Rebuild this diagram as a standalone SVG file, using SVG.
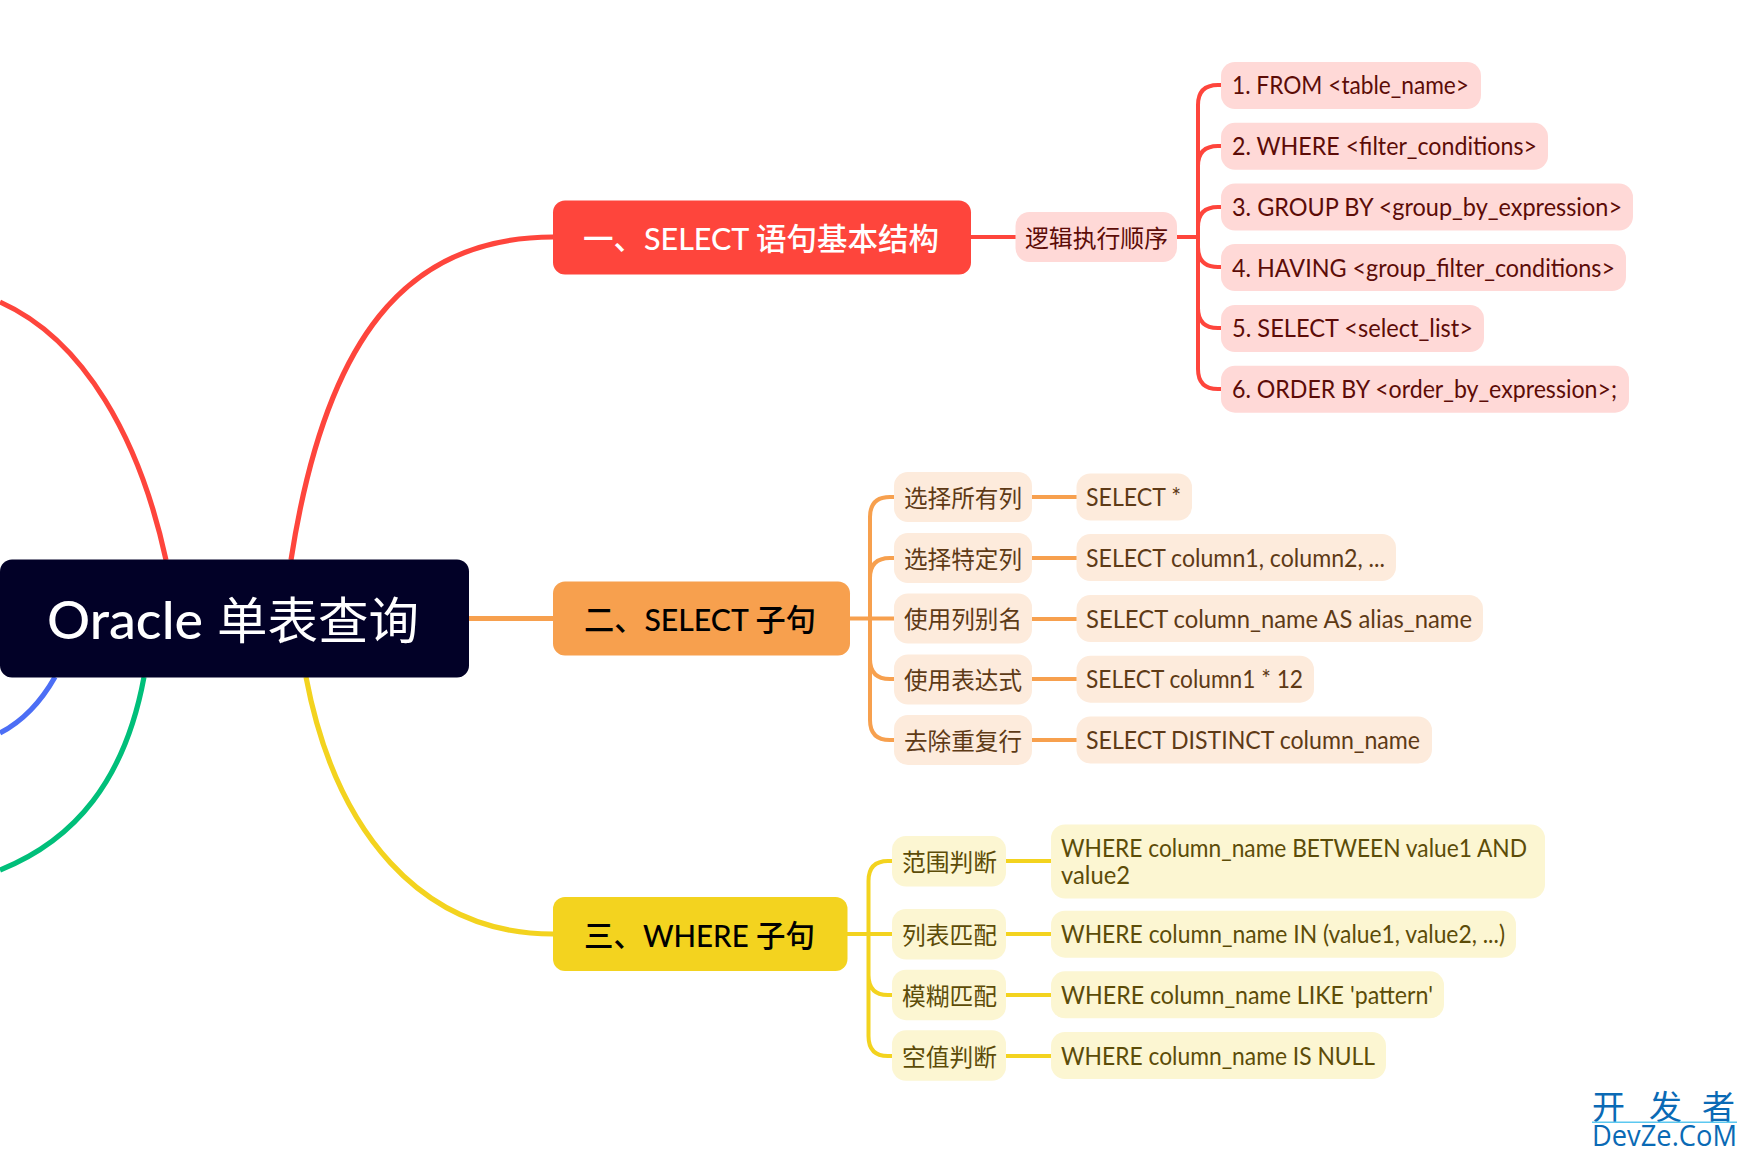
<svg xmlns="http://www.w3.org/2000/svg" width="1748" height="1157" viewBox="0 0 1748 1157">
<style>
text{font-family:"Lato","Noto Sans CJK SC",sans-serif;font-size:24px}
.c{fill:none;stroke-width:4;stroke-linecap:butt}
.t{stroke-width:5.200}
.m{font-size:31px;font-weight:500}
.l{font-size:25.500px}
.r{stroke:#fe453c}.o{stroke:#f7a04e}.y{stroke:#f3d31f}
.rb{fill:#ffd9d7}.ob{fill:#fdebdc}.yb{fill:#fcf6d2}
.rt{fill:#5c0c07}.ot{fill:#5e3a16}.yt{fill:#5c4c08}
</style>
<rect width="1748" height="1157" fill="#fff"/>
<g id="connectors">
<path class="c t r" d="M291 560C325 340 405 237 553 237"/>
<path class="c t r" d="M166 560C140 440 85 340 0 302"/>
<path class="c t" style="stroke:#4c6ef5" d="M55 677C42 700 25 720 0 733"/>
<path class="c t" style="stroke:#00bf7a" d="M144 677C125 780 75 840 0 870"/>
<path class="c t y" d="M306 677C335 830 420 934 553 934"/>
<path class="c t o" d="M469 618.500H553"/>
<path class="c r" d="M971 237H1016M1177 237H1198M1198 237V105Q1198 85 1218 85H1221M1198 237V166Q1198 146 1218 146H1221M1198 237V227Q1198 207 1218 207H1221M1198 237V247Q1198 267 1218 267H1221M1198 237V308Q1198 328 1218 328H1221M1198 237V369Q1198 389 1218 389H1221"/>
<path class="c o" d="M850 618.500H894M870 618V517Q870 497 890 497H894M870 618V578Q870 558 890 558H894M870 618V659Q870 679 890 679H894M870 618V720Q870 740 890 740H894M1032 497H1077M1032 558H1077M1032 619H1077M1032 679H1077M1032 740H1077"/>
<path class="c y" d="M847 934H892M868.500 934V881Q868.500 861 888 861H892M868.500 934V975Q868.500 995 888 995H892M868.500 934V1036Q868.500 1056 888 1056H892M1006 861H1051M1006 934H1051M1006 995H1051M1006 1056H1051"/>
</g>
<g id="root"><rect x="0" y="559.500" width="469" height="118" rx="12" fill="#020127"/><text x="47" y="639" textLength="156" lengthAdjust="spacingAndGlyphs" style="font-size:52px;font-weight:500" fill="#fff">Oracle</text><text x="217" y="639" textLength="202" lengthAdjust="spacingAndGlyphs" style="font-size:50px;font-weight:400" fill="#fff">单表查询</text></g>
<g id="n1"><rect x="553" y="200.500" width="418" height="74" rx="12" fill="#fe453c"/><text class="m" x="583" y="250" textLength="356" lengthAdjust="spacingAndGlyphs" fill="#fff">一、SELECT 语句基本结构</text></g>
<g id="n2"><rect x="553" y="581.500" width="297" height="74" rx="12" fill="#f7a04e"/><text class="m" x="584" y="631" textLength="232" lengthAdjust="spacingAndGlyphs" fill="#000">二、SELECT 子句</text></g>
<g id="n3"><rect x="553" y="897" width="294.500" height="74" rx="12" fill="#f3d31f"/><text class="m" x="584" y="947" textLength="231" lengthAdjust="spacingAndGlyphs" fill="#000">三、WHERE 子句</text></g>

<g id="n1-0"><rect class="rb" x="1015.500" y="212" width="161.500" height="50" rx="14"/><text class="rt" x="1025" y="247" textLength="143" lengthAdjust="spacingAndGlyphs">逻辑执行顺序</text></g>
<g id="n1-1"><rect class="rb" x="1221" y="62" width="260" height="47" rx="14"/><text class="rt l" x="1232" y="93.500" textLength="237" lengthAdjust="spacingAndGlyphs">1. FROM &lt;table_name&gt;</text></g>
<g id="n1-2"><rect class="rb" x="1221" y="122.800" width="327" height="47" rx="14"/><text class="rt l" x="1232" y="154.500" textLength="305" lengthAdjust="spacingAndGlyphs">2. WHERE &lt;filter_conditions&gt;</text></g>
<g id="n1-3"><rect class="rb" x="1221" y="183.500" width="412" height="47" rx="14"/><text class="rt l" x="1232" y="215.500" textLength="390" lengthAdjust="spacingAndGlyphs">3. GROUP BY &lt;group_by_expression&gt;</text></g>
<g id="n1-4"><rect class="rb" x="1221" y="244" width="405" height="47" rx="14"/><text class="rt l" x="1232" y="276.500" textLength="383" lengthAdjust="spacingAndGlyphs">4. HAVING &lt;group_filter_conditions&gt;</text></g>
<g id="n1-5"><rect class="rb" x="1221" y="305" width="263" height="47" rx="14"/><text class="rt l" x="1232" y="336.500" textLength="241" lengthAdjust="spacingAndGlyphs">5. SELECT &lt;select_list&gt;</text></g>
<g id="n1-6"><rect class="rb" x="1221" y="365.700" width="408" height="47" rx="14"/><text class="rt l" x="1232" y="397.500" textLength="385" lengthAdjust="spacingAndGlyphs">6. ORDER BY &lt;order_by_expression&gt;;</text></g>

<g id="n2-1"><rect class="ob" x="894" y="472" width="138" height="50" rx="14"/><text class="ot" x="904" y="506.500" textLength="118" lengthAdjust="spacingAndGlyphs">选择所有列</text></g>
<g id="n2-1-1"><rect class="ob" x="1076.500" y="473.500" width="115.500" height="47" rx="14"/><text class="ot l" x="1086" y="505.500" textLength="95" lengthAdjust="spacingAndGlyphs">SELECT *</text></g>
<g id="n2-2"><rect class="ob" x="894" y="533" width="138" height="50" rx="14"/><text class="ot" x="904" y="567.500" textLength="118" lengthAdjust="spacingAndGlyphs">选择特定列</text></g>
<g id="n2-2-1"><rect class="ob" x="1076.500" y="534" width="319.500" height="47" rx="14"/><text class="ot l" x="1086" y="566.500" textLength="299" lengthAdjust="spacingAndGlyphs">SELECT column1, column2, ...</text></g>
<g id="n2-3"><rect class="ob" x="894" y="593.500" width="138" height="50" rx="14"/><text class="ot" x="904" y="628" textLength="118" lengthAdjust="spacingAndGlyphs">使用列别名</text></g>
<g id="n2-3-1"><rect class="ob" x="1076.500" y="595" width="406.500" height="47" rx="14"/><text class="ot l" x="1086" y="627.500" textLength="386" lengthAdjust="spacingAndGlyphs">SELECT column_name AS alias_name</text></g>
<g id="n2-4"><rect class="ob" x="894" y="654.500" width="138" height="50" rx="14"/><text class="ot" x="904" y="689" textLength="118" lengthAdjust="spacingAndGlyphs">使用表达式</text></g>
<g id="n2-4-1"><rect class="ob" x="1076.500" y="655.700" width="237.500" height="47" rx="14"/><text class="ot l" x="1086" y="687.500" textLength="217" lengthAdjust="spacingAndGlyphs">SELECT column1 * 12</text></g>
<g id="n2-5"><rect class="ob" x="894" y="715" width="138" height="50" rx="14"/><text class="ot" x="904" y="750" textLength="118" lengthAdjust="spacingAndGlyphs">去除重复行</text></g>
<g id="n2-5-1"><rect class="ob" x="1076.500" y="716.500" width="355.500" height="47" rx="14"/><text class="ot l" x="1086" y="748.500" textLength="334" lengthAdjust="spacingAndGlyphs">SELECT DISTINCT column_name</text></g>

<g id="n3-1"><rect class="yb" x="892" y="836" width="114" height="50.500" rx="14"/><text class="yt" x="902" y="871" textLength="95" lengthAdjust="spacingAndGlyphs">范围判断</text></g>
<g id="n3-1-1"><rect class="yb" x="1051" y="824.500" width="494" height="74" rx="14"/><text class="yt l" x="1061" y="856.500" textLength="466" lengthAdjust="spacingAndGlyphs">WHERE column_name BETWEEN value1 AND</text><text class="yt l" x="1061" y="883.500" textLength="69" lengthAdjust="spacingAndGlyphs">value2</text></g>
<g id="n3-2"><rect class="yb" x="892" y="909" width="114" height="50.500" rx="14"/><text class="yt" x="902" y="944" textLength="95" lengthAdjust="spacingAndGlyphs">列表匹配</text></g>
<g id="n3-2-1"><rect class="yb" x="1051" y="910.700" width="465" height="47" rx="14"/><text class="yt l" x="1061" y="942.500" textLength="444" lengthAdjust="spacingAndGlyphs">WHERE column_name IN (value1, value2, ...)</text></g>
<g id="n3-3"><rect class="yb" x="892" y="969.700" width="114" height="50.500" rx="14"/><text class="yt" x="902" y="1005" textLength="95" lengthAdjust="spacingAndGlyphs">模糊匹配</text></g>
<g id="n3-3-1"><rect class="yb" x="1051" y="971.300" width="393" height="47" rx="14"/><text class="yt l" x="1061" y="1003.500" textLength="372" lengthAdjust="spacingAndGlyphs">WHERE column_name LIKE 'pattern'</text></g>
<g id="n3-4"><rect class="yb" x="892" y="1030.300" width="114" height="50.500" rx="14"/><text class="yt" x="902" y="1065.500" textLength="95" lengthAdjust="spacingAndGlyphs">空值判断</text></g>
<g id="n3-4-1"><rect class="yb" x="1051" y="1032" width="335" height="47" rx="14"/><text class="yt l" x="1061" y="1064.500" textLength="314" lengthAdjust="spacingAndGlyphs">WHERE column_name IS NULL</text></g>

<g id="watermark">
<text x="1592 1649 1702" y="1119" style="font-size:33px;font-family:'Noto Sans CJK SC',sans-serif;font-weight:400" fill="#0a6ab5">开发者</text>
<rect x="1592" y="1121.500" width="145" height="1.500" fill="#5cc8f0"/>
<text x="1592" y="1146" textLength="145" lengthAdjust="spacingAndGlyphs" style="font-size:29px;font-family:'Open Sans',sans-serif" fill="#0a6ab5">DevZe.CoM</text>
</g>
</svg>
